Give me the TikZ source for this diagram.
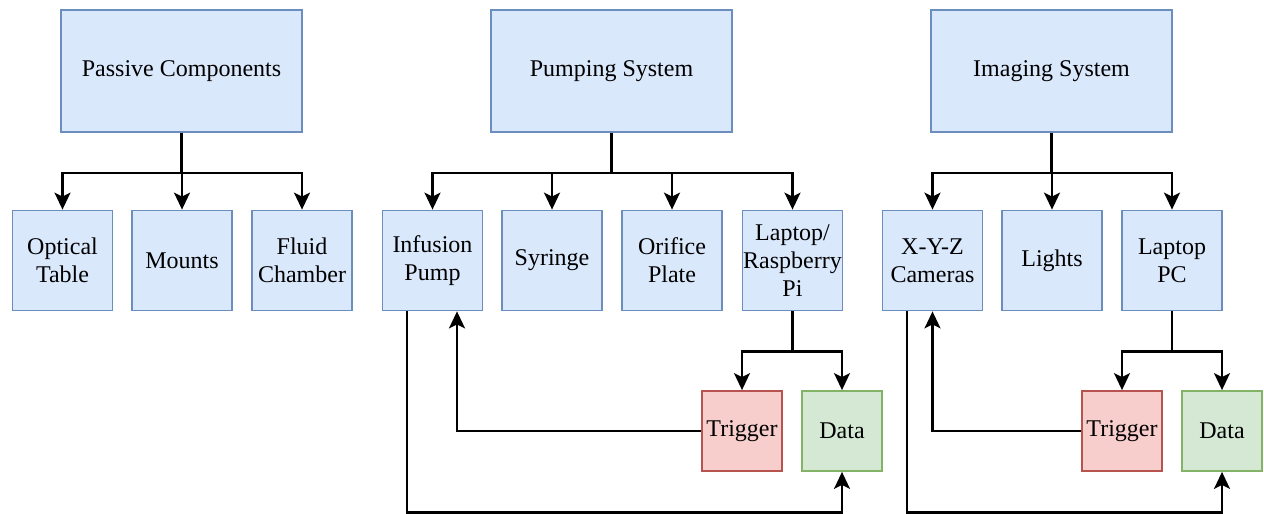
\documentclass[tikz,border=0pt]{standalone}
\usepackage{fontspec}
\setmainfont{Liberation Serif}
\usetikzlibrary{arrows.meta}
\definecolor{bluefill}{HTML}{DAE8FC}
\definecolor{blueline}{HTML}{6C8EBF}
\definecolor{redfill}{HTML}{F8CECC}
\definecolor{redline}{HTML}{B85450}
\definecolor{greenfill}{HTML}{D5E8D4}
\definecolor{greenline}{HTML}{82B366}

\begin{document}
\begin{tikzpicture}[x=0.5pt, y=-0.5pt,
    box/.style={draw=blueline, fill=bluefill, line width=0.9pt, align=center,
        inner sep=0pt, font=\fontsize{12}{14}\selectfont},
    head/.style={box, minimum width=120.5pt, minimum height=61pt},
    part/.style={box, minimum width=50pt, minimum height=50pt},
    trig/.style={part, draw=redline, fill=redfill, minimum width=40pt, minimum height=40pt},
    dat/.style={trig, draw=greenline, fill=greenfill},
    arr/.style={-{Stealth[length=8.5pt, width=8pt, inset=2pt]}, line width=1.1pt}]
    \useasboundingbox (0,0) rectangle (1264,514);

    % the three subsystems
    \node[head] (passive) at (181.5,71) {Passive Components};
    \node[head] (pumping) at (611.5,71) {Pumping System};
    \node[head] (imaging) at (1051.5,71) {Imaging System};

    % parts
    \node[part] (optical) at (62.5,260.5) {Optical\\Table};
    \node[part] (mounts) at (182,260.5) {Mounts};
    \node[part] (fluid) at (302,260.5) {Fluid\\Chamber};
    \node[part] (infusion) at (432.5,260.5) {Infusion\\Pump};
    \node[part] (syringe) at (552,260.5) {Syringe};
    \node[part] (orifice) at (672,260.5) {Orifice\\Plate};
    \node[part] (laptop) at (792.5,260.5) {Laptop/\\Raspberry\\Pi};
    \node[part] (cameras) at (932.5,260.5) {X-Y-Z\\Cameras};
    \node[part] (lights) at (1052,260.5) {Lights};
    \node[part] (laptoppc) at (1172,260.5) {Laptop\\PC};

    % signals
    \node[trig] (trigA) at (742,431) {Trigger};
    \node[dat] (dataA) at (842,431) {Data};
    \node[trig] (trigB) at (1122,431) {Trigger};
    \node[dat] (dataB) at (1222,431) {Data};

    \foreach \c in {optical,mounts,fluid}
        \draw[arr] (passive.south) -- ++(0,40) -| (\c.north);
    \foreach \c in {infusion,syringe,orifice,laptop}
        \draw[arr] (pumping.south) -- ++(0,40) -| (\c.north);
    \foreach \c in {cameras,lights,laptoppc}
        \draw[arr] (imaging.south) -- ++(0,40) -| (\c.north);

    \foreach \c in {trigA,dataA}
        \draw[arr] (laptop.south) -- ++(0,40) -| (\c.north);
    \foreach \c in {trigB,dataB}
        \draw[arr] (laptoppc.south) -- ++(0,40) -| (\c.north);

    \draw[arr] (trigA.west) -| ([xshift=12.25pt]infusion.south);
    \draw[arr] ([xshift=-12.75pt]infusion.south) -- ++(0,201) -| (dataA.south);
    \draw[arr] (trigB.west) -| (cameras.south);
    \draw[arr] ([xshift=-12.75pt]cameras.south) -- ++(0,201) -| (dataB.south);
\end{tikzpicture}
\end{document}
